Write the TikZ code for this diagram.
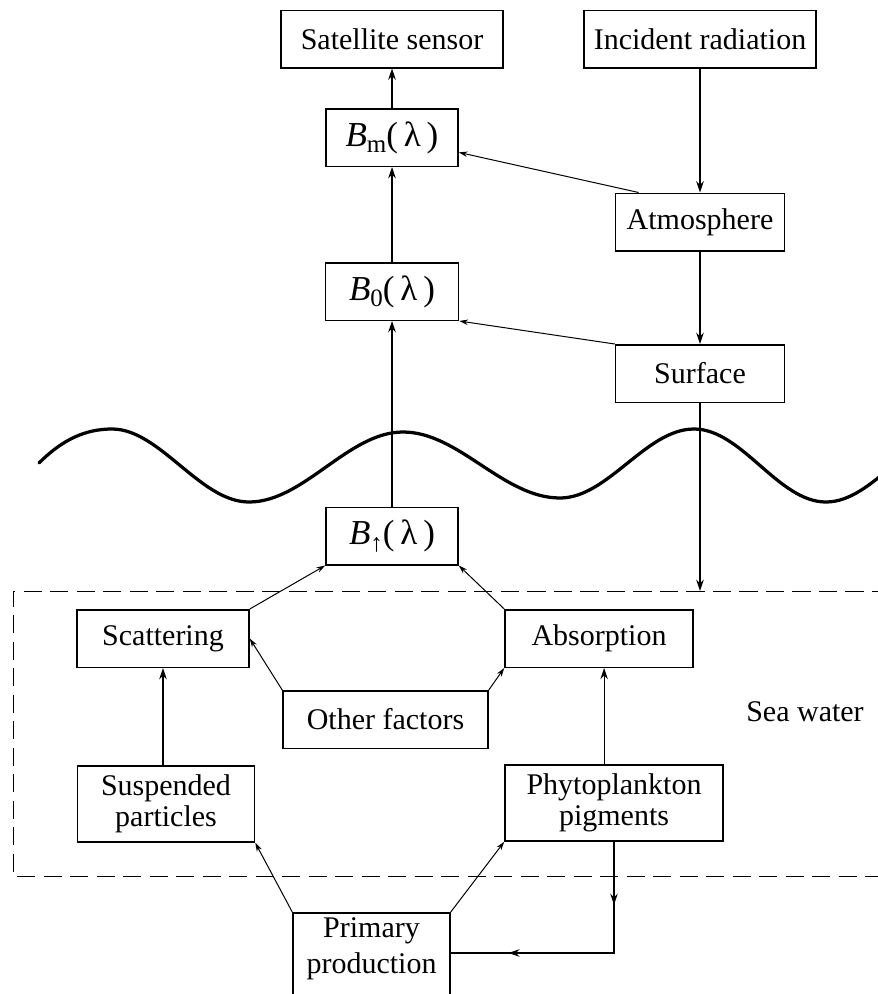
\documentclass[tikz,border=0pt]{standalone}
\usepackage{fontspec}
\setmainfont{Liberation Serif}
\usetikzlibrary{arrows.meta,positioning,calc,decorations.markings}
\tikzset{
    box/.style={draw,rectangle,line width=0.6pt,minimum height=23pt,inner sep=2pt,align=center,font=\fontsize{12}{12.5}\selectfont},
    tallbox/.style={box,minimum height=30.4pt},
    arr/.style={-{Stealth[length=4.5pt,width=3pt]},line width=0.5pt},
    thinarr/.style={-{Stealth[length=3.5pt,width=2.2pt]},line width=0.4pt},
    wave/.style={line width=1.3pt,line cap=round},
    border/.style={dash pattern=on 7.3pt off 3.3pt,line width=0.35pt},
    twoarr/.style={postaction=decorate,decoration={markings,
        mark=at position 0.23 with {\arrow{Stealth[length=4.5pt,width=3pt]}},
        mark=at position 0.79 with {\arrow{Stealth[length=4.5pt,width=3pt]}}}},
}
\newcommand{\blab}[1]{{\fontsize{14}{14}\selectfont\textit{B}\raisebox{-0.4ex}{\fontsize{10}{10}\selectfont #1}(\,λ\,)}}

\begin{document}
\begin{tikzpicture}[x=0.4pt,y=-0.4pt]
    \useasboundingbox (0,0) rectangle (878,994);
    \clip (0,0) rectangle (878,994);
    % above the water
    \node[box,minimum width=88.8pt] (sat) at (392,39) {Satellite sensor};
    \node[box,minimum width=92.8pt] (inc) at (700,39) {Incident radiation};
    \node[box,minimum width=52.8pt] (bm) at (392,137.5) {\blab{m}};
    \node[box,minimum width=67.6pt] (atm) at (700,222) {Atmosphere};
    \node[box,minimum width=53.2pt] (b0) at (392,291.5) {\blab{0}};
    \node[box,minimum width=67.6pt] (surf) at (700,373.5) {Surface};
    \node[box,minimum width=52.8pt] (bup) at (392,536) {\blab{↑}};
    % sea water
    \node[box,minimum width=68.8pt] (scat) at (163,638.5) {Scattering};
    \node[box,minimum width=75.2pt] (abs) at (599,638.5) {Absorption};
    \node[box,minimum width=82pt] (oth) at (385.5,719.5) {Other factors};
    \node[tallbox,minimum width=70.8pt] (susp) at (166,804) {Suspended\\particles};
    \node[tallbox,minimum width=87.2pt] (phyt) at (614,803) {Phytoplankton\\pigments};
    \node[box,anchor=north,minimum width=62.8pt,font=\fontsize{12}{14.4}\selectfont,text depth=40pt] (prim) at (371.5,912) {Primary\\production};
    \node[font=\fontsize{12}{12.5}\selectfont] (sea) at (805,712) {Sea water};
    \coordinate (seatop) at (13,591);
    \coordinate (turn) at (614,953);

    \draw[wave] (39,463) .. controls (62,440) and (85,429) .. (112,429)
        .. controls (160,429) and (200,502) .. (249,502)
        .. controls (304,502) and (348,432) .. (403,432)
        .. controls (459,432) and (503,498) .. (560,498)
        .. controls (608,498) and (646,429) .. (694,429)
        .. controls (742,429) and (778,502) .. (826,502)
        .. controls (874,502) and (912,429) .. (960,429);
    \draw[border] (890,591) -- (seatop) -- (13,876) -- (890,876);

    \draw[arr] (bm) -- (sat);
    \draw[arr] (b0) -- (bm);
    \draw[arr] (bup) -- (b0);
    \draw[arr] (inc) -- (atm);
    \draw[arr] (atm) -- (surf);
    \draw[arr] (surf) -- (surf |- seatop);
    \draw[thinarr] ($(atm.north west)!0.14!(atm.north east)$) -- (bm);
    \draw[thinarr] (surf.north west) -- (b0.south east);
    \draw[thinarr] (scat.north east) -- (bup.south west);
    \draw[thinarr] (abs.north west) -- (bup.south east);
    \draw[thinarr] (oth.north west) -- (scat.east);
    \draw[thinarr] (oth.north east) -- (abs.south west);
    \draw[arr] (susp.north -| scat.south) -- (scat.south);
    \draw[arr] ($(phyt.north west)!0.455!(phyt.north east)$) coordinate (up) -- (up |- abs.south);
    \draw[thinarr] (prim.north west) -- (susp.south east);
    \draw[thinarr] (prim.north east) -- (phyt.south west);
    \draw[line width=0.5pt,twoarr] (phyt.south) -- (turn) -- (turn -| prim.east);
\end{tikzpicture}
\end{document}
